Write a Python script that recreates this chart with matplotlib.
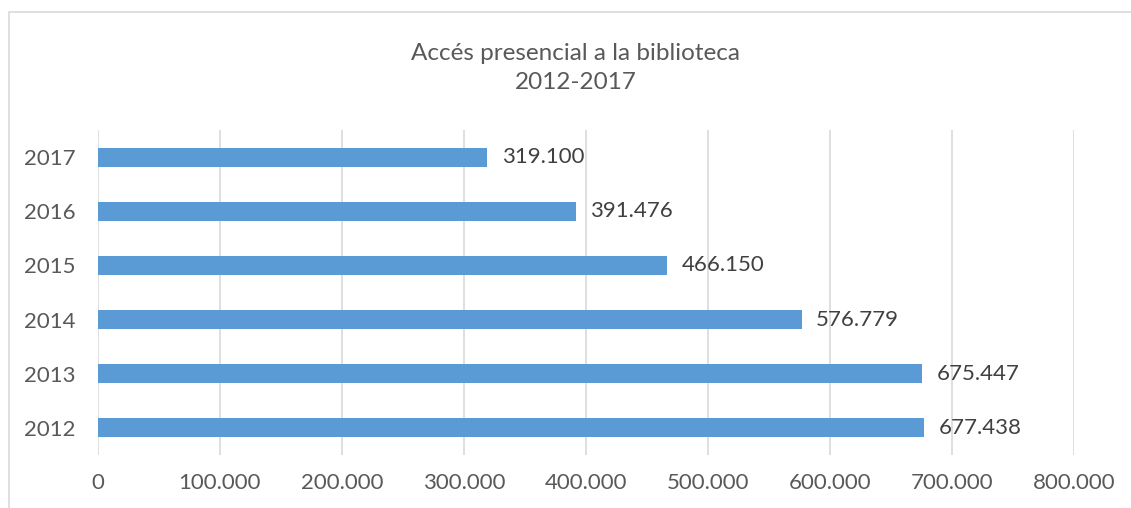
import matplotlib.pyplot as plt
from matplotlib.patches import Rectangle
from matplotlib.ticker import FuncFormatter

# data
years = ['2012', '2013', '2014', '2015', '2016', '2017']
visits = [677438, 675447, 576779, 466150, 391476, 319100]

plt.rcParams['font.family'] = ['Lato', 'DejaVu Sans']
txt_col = '#595959'
bar_col = '#5B9BD5'
grid_col = '#D9D9D9'

fig = plt.figure(figsize=(11.31, 5.08), dpi=100)
ax = fig.add_axes([0.0866, 0.1043, 0.8630, 0.6397])

# chart border
fig.patches.append(Rectangle((9 / 1131, -0.01), 1.0, 1 - 12 / 508 + 0.01,
                             transform=fig.transFigure, fill=False,
                             edgecolor='#D9D9D9', linewidth=1.2))

y = range(len(years))
ax.barh(y, visits, height=0.35, color=bar_col, zorder=3)

def fmt(v):
    return '{:,}'.format(int(v)).replace(',', '.')

for i, v in enumerate(visits):
    ax.text(v + 12000, i, fmt(v), va='center', ha='left', fontsize=16, color='#404040')

ax.set_xlim(0, 800000)
ax.set_ylim(-0.5, len(years) - 0.5)
ax.set_xticks(range(0, 800001, 100000))
ax.xaxis.set_major_formatter(FuncFormatter(lambda v, p: fmt(v)))
ax.set_yticks(list(y))
ax.set_yticklabels(years)
ax.grid(axis='x', color=grid_col, linewidth=1.2, zorder=0)
for s in ax.spines.values():
    s.set_visible(False)
ax.tick_params(length=0, labelsize=16, colors=txt_col)
ax.tick_params(axis='x', pad=13)
ax.tick_params(axis='y', pad=16)

fig.text(0.509, 0.866, 'Accés presencial a la biblioteca\n2012-2017', ha='center', va='center',
         fontsize=17.5, color=txt_col, linespacing=1.5)

fig.savefig('out.png', dpi=100)
